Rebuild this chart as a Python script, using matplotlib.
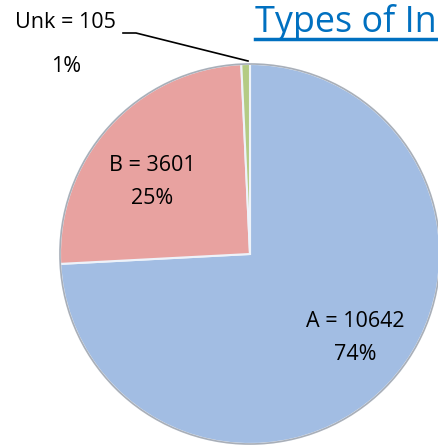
import matplotlib.pyplot as plt

# slice data
labels = ['A', 'B', 'Unk']
values = [10642, 3601, 105]
colors = ['#a2bde3', '#e8a2a0', '#b4cb84']
title = 'Types of In'   # title is cut off in the original picture

W, H = 438, 445
fig = plt.figure(figsize=(W / 100, H / 100), dpi=100)
ax = fig.add_axes([0, 0, 1, 1])

cx, cy, r = 250, H - 254, 190

ax.pie(values, colors=colors, startangle=90, counterclock=False,
       center=(cx, cy), radius=r, frame=True,
       wedgeprops=dict(edgecolor='#eef3fa', linewidth=1.5))
ax.set_xlim(0, W)
ax.set_ylim(0, H)
ax.set_aspect('equal')
ax.axis('off')
# soft outline round the pie
ax.add_patch(plt.Circle((cx, cy), r, fill=False, edgecolor='#a9afb8', lw=1.2))

total = sum(values)
pct = [round(v / total * 100) for v in values]
font = 'Open Sans'
fs = 15.5

# data labels (baseline positions)
ax.text(355, H - 327, f'{labels[0]} = {values[0]}', ha='center', va='baseline', fontsize=fs, family=font)
ax.text(355, H - 360, f'{pct[0]}%', ha='center', va='baseline', fontsize=fs, family=font)
ax.text(152, H - 171, f'{labels[1]} = {values[1]}', ha='center', va='baseline', fontsize=fs, family=font)
ax.text(152, H - 204, f'{pct[1]}%', ha='center', va='baseline', fontsize=fs, family=font)
ax.text(65, H - 28, f'{labels[2]} = {values[2]}', ha='center', va='baseline', fontsize=fs, family=font)
ax.text(66, H - 72, f'{pct[2]}%', ha='center', va='baseline', fontsize=fs, family=font)

# leader line for the small slice
ax.plot([123, 136, 248], [H - 33, H - 33, H - 61], color='black', lw=1.2)

# title, underlined
ax.text(255, H - 32, title, ha='left', va='baseline', fontsize=25.8,
        color='#0070c0', family=font)
ax.plot([255, W], [H - 39, H - 39], color='#0070c0', lw=2.5)

fig.savefig('out.png', dpi=100)
